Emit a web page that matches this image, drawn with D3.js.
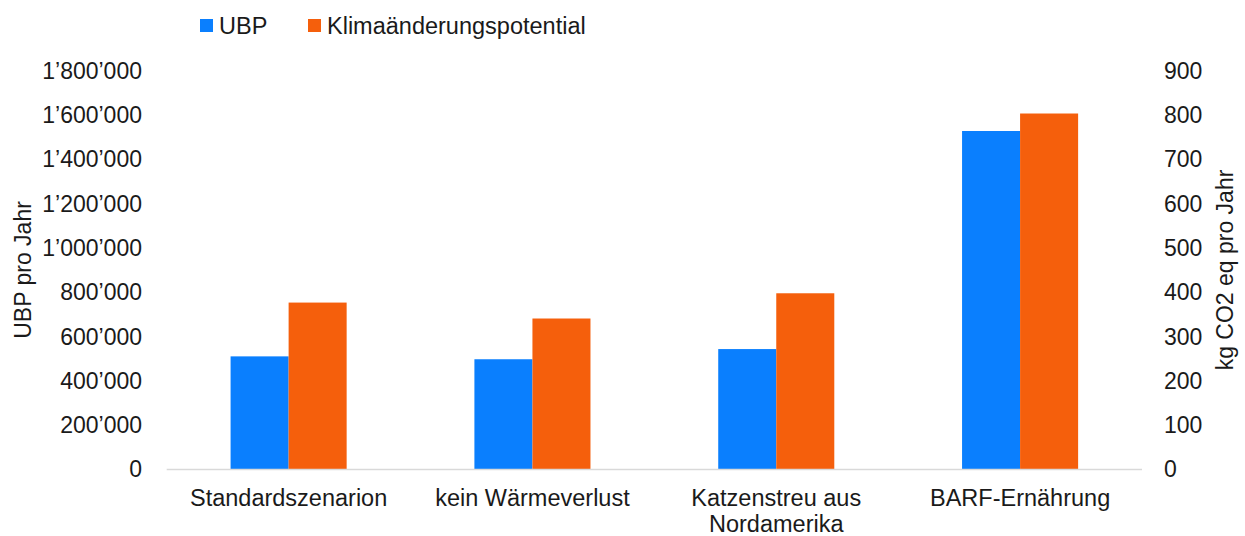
<!DOCTYPE html>
<html>
<head>
<meta charset="utf-8">
<script src="https://cdn.jsdelivr.net/npm/d3@7"></script>
<style>
  html, body { margin: 0; padding: 0; background: #fff; }
  svg { display: block; }
  text { font-family: "Liberation Sans", Arial, sans-serif; fill: #1a1a1a; }
</style>
</head>
<body>
<svg id="chart" width="1245" height="536"></svg>
<script>
const categories = [["Standardszenarion"], ["kein Wärmeverlust"], ["Katzenstreu aus", "Nordamerika"], ["BARF-Ernährung"]];
const seriesNames = ["UBP", "Klimaänderungspotential"];
const ubpValues = [511000, 498000, 544000, 1529000];
const klimaValues = [377, 341, 398, 804];
const leftTicks = [0, 200000, 400000, 600000, 800000, 1000000, 1200000, 1400000, 1600000, 1800000];
const rightTicks = [0, 100, 200, 300, 400, 500, 600, 700, 800, 900];
const leftTitle = "UBP pro Jahr";
const rightTitle = "kg CO2 eq pro Jahr";
const colors = ["#0a7ffe", "#f55f0c"];

const svg = d3.select("#chart");
const plotLeft = 166.7, plotRight = 1142, plotTop = 71, plotBottom = 469.5;
const catKeys = categories.map(c => c.join(" "));

const x0 = d3.scaleBand().domain(catKeys).range([plotLeft, plotRight]).paddingInner(0.524).paddingOuter(0.262);
const x1 = d3.scaleBand().domain(seriesNames).range([0, x0.bandwidth()]);
const yL = d3.scaleLinear().domain([0, 1800000]).range([plotBottom, plotTop]);
const yR = d3.scaleLinear().domain([0, 900]).range([plotBottom, plotTop]);

const fmt = v => d3.format(",")(v).replace(/,/g, "\u2019");

// bars
const g = svg.append("g");
catKeys.forEach((k, i) => {
  g.append("rect")
    .attr("x", x0(k) + x1("UBP")).attr("width", x1.bandwidth())
    .attr("y", yL(ubpValues[i])).attr("height", plotBottom - yL(ubpValues[i]))
    .attr("fill", colors[0]);
  g.append("rect")
    .attr("x", x0(k) + x1("Klimaänderungspotential")).attr("width", x1.bandwidth())
    .attr("y", yR(klimaValues[i])).attr("height", plotBottom - yR(klimaValues[i]))
    .attr("fill", colors[1]);
});

// baseline
svg.append("line").attr("x1", plotLeft).attr("x2", plotRight).attr("y1", plotBottom).attr("y2", plotBottom)
  .attr("stroke", "#d9d9d9").attr("stroke-width", 1.5);

// left axis
const axL = d3.axisLeft(yL).tickValues(leftTicks).tickFormat(fmt).tickSize(0).tickPadding(0);
const gL = svg.append("g").attr("transform", "translate(142,0)").call(axL);
gL.select(".domain").remove();
gL.selectAll("text").attr("font-size", 23).attr("fill", "#1a1a1a").attr("font-family", "Liberation Sans, Arial, sans-serif");

// right axis
const axR = d3.axisRight(yR).tickValues(rightTicks).tickSize(0).tickPadding(0);
const gR = svg.append("g").attr("transform", "translate(1164,0)").call(axR);
gR.select(".domain").remove();
gR.selectAll("text").attr("font-size", 23).attr("fill", "#1a1a1a").attr("font-family", "Liberation Sans, Arial, sans-serif");

// category labels
catKeys.forEach((k, i) => {
  const cx = x0(k) + x0.bandwidth() / 2;
  const t = svg.append("text").attr("text-anchor", "middle").attr("font-size", 23.5)
    .attr("x", cx).attr("y", 506);
  categories[i].forEach((line, j) => {
    t.append("tspan").attr("x", cx).attr("dy", j === 0 ? 0 : 26).text(line);
  });
});

// axis titles
svg.append("text").attr("transform", "translate(31,270) rotate(-90)")
  .attr("text-anchor", "middle").attr("font-size", 23).text(leftTitle);
svg.append("text").attr("transform", "translate(1233,270) rotate(-90)")
  .attr("text-anchor", "middle").attr("font-size", 23).text(rightTitle);

// legend
const legendX = [200, 308];
seriesNames.forEach((s, i) => {
  svg.append("rect").attr("x", legendX[i]).attr("y", 19).attr("width", 13).attr("height", 13).attr("fill", colors[i]);
  svg.append("text").attr("x", legendX[i] + 19).attr("y", 33.5).attr("font-size", 23.5).text(s);
});
</script>
</body>
</html>
